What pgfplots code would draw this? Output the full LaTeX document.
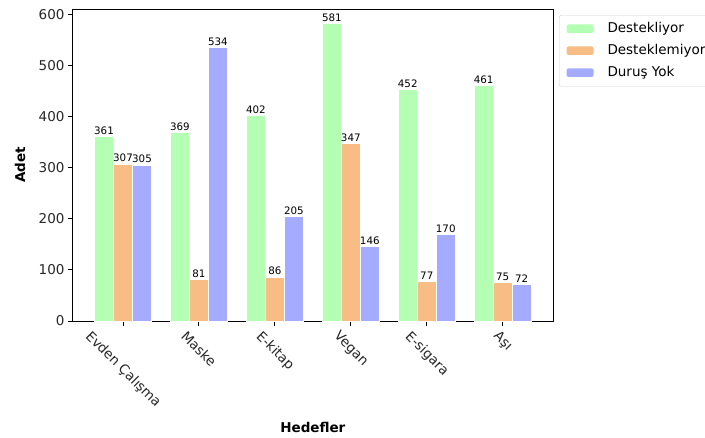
\documentclass[border=0pt]{standalone}
\usepackage{fontspec}
\setmainfont{DejaVu Sans}
\usepackage{graphicx}
\usepackage{pgfplots}
\pgfplotsset{compat=1.18}

\definecolor{cgreen}{RGB}{180,255,180}
\definecolor{corange}{RGB}{248,188,133}
\definecolor{cblue}{RGB}{165,171,255}

\newcommand{\tl}[1]{\rotatebox{-45}{#1}}

\begin{document}
\begin{tikzpicture}
\path[use as bounding box] (-72.7pt,-116pt) rectangle (632.3pt,321pt);
\begin{axis}[
  at={(0pt,0pt)}, anchor=south west,
  scale only axis, width=480.3pt, height=312pt,
  xmin=-0.6625, xmax=5.6625, ymin=0, ymax=610,
  ybar=0pt, bar width=0.25,
  axis line style={black, line width=1pt},
  tick style={black, line width=1pt},
  tick align=outside, major tick length=4.7pt,
  xtick pos=bottom, ytick pos=left,
  xtick={0,1,2,3,4,5},
  xticklabels={\tl{Evden Çalışma},\tl{Maske},\tl{E-kitap},\tl{Vegan},\tl{E-sigara},\tl{Aşı}},
  ytick={0,100,200,300,400,500,600},
  /pgf/number format/assume math mode=true,
  ticklabel style={font=\fontsize{13.5}{16}\selectfont, text=black!85},
  xticklabel style={anchor=north, inner sep=0pt, yshift=-4pt},
  xlabel={\bfseries Hedefler},
  ylabel={\bfseries Adet},
  xlabel style={font=\fontsize{13.5}{16}\selectfont, at={(rel axis cs:0.5,0)}, anchor=center, yshift=-106pt},
  ylabel style={font=\fontsize{13.5}{16}\selectfont, at={(rel axis cs:0,0.5)}, anchor=center, yshift=52.5pt},
  nodes near coords,
  every node near coord/.append style={font=\fontsize{10.3}{12}\selectfont, text=black, anchor=south, inner sep=1.5pt},
  legend style={at={(rel axis cs:1,1)}, anchor=north west, xshift=6pt, yshift=-6pt,
    draw=black!20, rounded corners=2pt, fill=white,
    font=\fontsize{13.5}{16}\selectfont,
    nodes={text height=10pt, text depth=3pt, inner sep=4.5pt},
    inner xsep=2pt, inner ysep=2.5pt},
  legend cell align=left,
  legend image code/.code={\path[#1, draw=none] (5pt,-4.25pt) rectangle (32pt,4.25pt); \path (0pt,0pt) (41pt,0pt);},
]
\addplot[fill=cgreen, draw=white, line width=0.8pt, bar shift=-0.25] coordinates {
  (0,361) (1,369) (2,402) (3,581) (4,452) (5,461)};
\addplot[fill=corange, draw=white, line width=0.8pt, bar shift=0] coordinates {
  (0,307) (1,81) (2,86) (3,347) (4,77) (5,75)};
\addplot[fill=cblue, draw=white, line width=0.8pt, bar shift=0.25] coordinates {
  (0,305) (1,534) (2,205) (3,146) (4,170) (5,72)};
\legend{Destekliyor, Desteklemiyor, Duruş Yok}
\end{axis}
\end{tikzpicture}
\end{document}
